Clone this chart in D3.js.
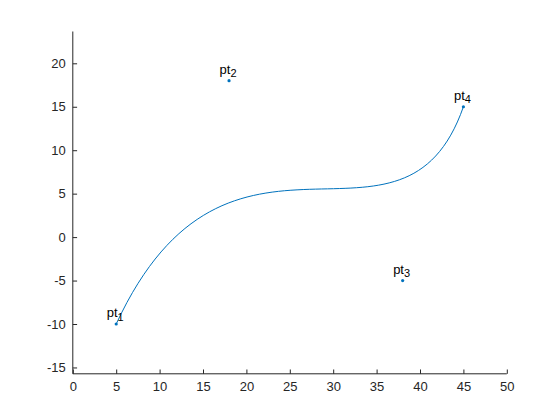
<!DOCTYPE html>
<html><head><meta charset="utf-8">
<script src="https://cdn.jsdelivr.net/npm/d3@7"></script>
<style>html,body{margin:0;padding:0;background:#fff;} svg{display:block;}</style>
</head><body>
<script>
const ptX = [5, 18, 38, 45];
const ptY = [-10, 18, -5, 15];
const ptLabels = ["1", "2", "3", "4"];
const xTicks = [0, 5, 10, 15, 20, 25, 30, 35, 40, 45, 50];
const yTicks = [-15, -10, -5, 0, 5, 10, 15, 20];
const xDomain = [0, 50];
const yDomain = [-15.73, 23.66];

(function () {
const W = 560, H = 420;
const mLeft = 72.8, mRight = 506.8, mTop = 31.5, mBottom = 373.8;
const axisColor = "#262626";
const font = "'Liberation Sans', Arial, Helvetica, sans-serif";

const svg = d3.select("body").append("svg").attr("width", W).attr("height", H);
const x = d3.scaleLinear().domain(xDomain).range([mLeft, mRight]);
const y = d3.scaleLinear().domain(yDomain).range([mBottom, mTop]);

const p = d3.path();
p.moveTo(x(ptX[0]), y(ptY[0]));
p.bezierCurveTo(x(ptX[1]), y(ptY[1]), x(ptX[2]), y(ptY[2]), x(ptX[3]), y(ptY[3]));
svg.append("path").attr("d", p.toString()).attr("fill", "none")
  .attr("stroke", "#0072BD").attr("stroke-width", 1);

svg.selectAll("circle.pt").data(ptX).enter().append("circle")
  .attr("cx", (d) => x(d)).attr("cy", (d, i) => y(ptY[i])).attr("r", 1.6)
  .attr("fill", "#0072BD");

const lab = svg.selectAll("text.lab").data(ptX).enter().append("text")
  .attr("x", (d) => x(d) - 1).attr("y", (d, i) => y(ptY[i]) - 7)
  .attr("text-anchor", "middle").attr("font-family", font).attr("font-size", 13)
  .attr("fill", "#000");
lab.append("tspan").text("pt");
lab.append("tspan").attr("dy", 3.5).attr("font-size", 11).text((d, i) => ptLabels[i]);

const fmt = (d) => String(d);
const xAxis = d3.axisBottom(x).tickValues(xTicks).tickFormat(fmt).tickSize(-4.3).tickPadding(8).tickSizeOuter(0);
const yAxis = d3.axisLeft(y).tickValues(yTicks).tickFormat(fmt).tickSize(-4.3).tickPadding(7).tickSizeOuter(0);
const gx = svg.append("g").attr("transform", `translate(0,${mBottom})`).call(xAxis);
const gy = svg.append("g").attr("transform", `translate(${mLeft},0)`).call(yAxis);
[gx, gy].forEach(g => {
  g.select(".domain").attr("stroke", axisColor);
  g.selectAll(".tick line").attr("stroke", axisColor);
  g.selectAll(".tick text").attr("fill", axisColor).attr("font-family", font).attr("font-size", 13);
});
gx.select(".domain").attr("d", `M${mLeft},0H${mRight}`);
gy.select(".domain").attr("d", `M0,${mBottom}V${mTop}`);
})();
</script>
</body></html>
